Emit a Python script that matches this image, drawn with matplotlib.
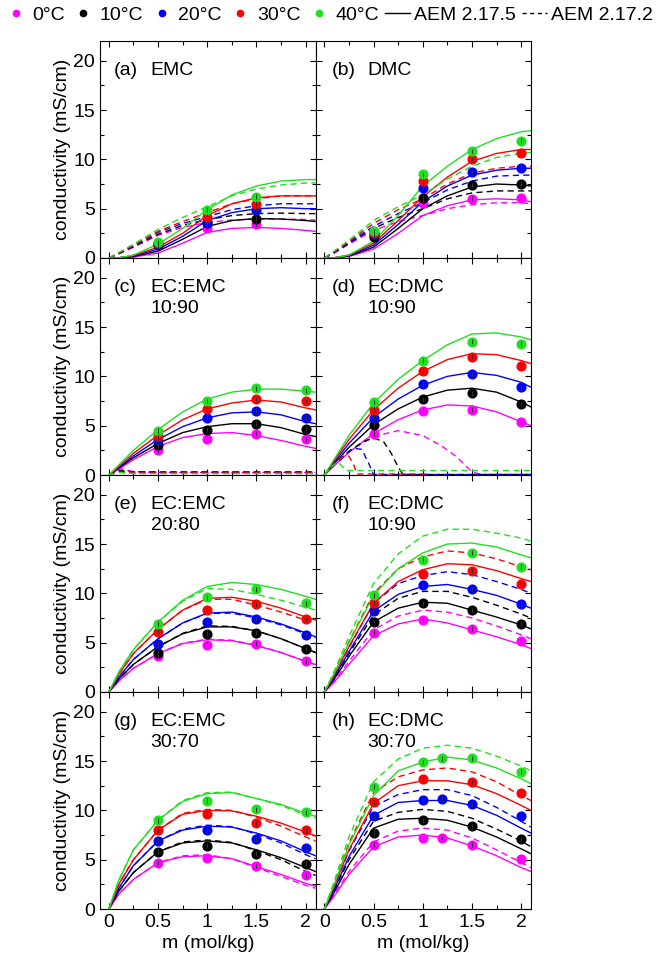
import matplotlib
matplotlib.use("Agg")
import matplotlib.pyplot as plt
from matplotlib.lines import Line2D
from matplotlib.ticker import MultipleLocator
import numpy as np

plt.rcParams['font.family'] = ['Liberation Sans', 'DejaVu Sans']
plt.rcParams['font.size'] = 14

temps = ['0°C', '10°C', '20°C', '30°C', '40°C']
colors = ['#ff00ff', '#000000', '#0000ff', '#ff0000', '#1fe01f']

# model curves are read at these molalities
m_fit = [0, 0.1, 0.25, 0.5, 0.75, 1.0, 1.25, 1.5, 1.75, 2.0, 2.1]
m_exp = [0.5, 1.0, 1.5, 2.0]
m_exp_a = [0.5, 1.0, 1.5]
m_exp_h = [0.5, 1.0, 1.2, 1.5, 2.0]

# (a) EMC  -- rows: 0, 10, 20, 30, 40 C
a_new = [[0, 0.01, 0.1, 0.5, 1.5, 2.6, 3.0, 3.1, 3.0, 2.8, 2.7],
         [0, 0.02, 0.15, 0.7, 1.9, 3.2, 3.8, 4.0, 3.95, 3.8, 3.7],
         [0, 0.02, 0.2, 0.9, 2.2, 3.8, 4.6, 5.0, 5.1, 5.0, 5.0],
         [0, 0.02, 0.25, 1.1, 2.5, 4.3, 5.5, 6.1, 6.3, 6.3, 6.3],
         [0, 0.02, 0.3, 1.4, 3.0, 4.9, 6.4, 7.3, 7.8, 7.95, 7.95]]
a_old = [[0, 0.4, 1.1, 2.3, 3.1, 3.6, 3.85, 3.95, 3.95, 3.9, 3.85],
         [0, 0.45, 1.15, 2.4, 3.3, 3.9, 4.3, 4.5, 4.55, 4.5, 4.5],
         [0, 0.5, 1.2, 2.6, 3.5, 4.2, 4.9, 5.3, 5.5, 5.5, 5.5],
         [0, 0.5, 1.3, 2.7, 3.7, 4.6, 5.5, 6.0, 6.3, 6.3, 6.3],
         [0, 0.55, 1.4, 2.9, 4.1, 5.2, 6.3, 7.0, 7.4, 7.6, 7.6]]
a_exp = [[1.3, 3.0, 3.4],
         [1.3, 3.5, 4.0],
         [1.4, 3.7, 4.9],
         [1.5, 4.2, 5.5],
         [1.6, 4.9, 6.2]]

# (b) DMC
b_new = [[0, 0.01, 0.15, 0.9, 2.5, 4.3, 5.3, 5.9, 6.0, 5.9, 5.7],
         [0, 0.02, 0.2, 1.1, 3.0, 5.0, 6.3, 7.2, 7.5, 7.4, 7.3],
         [0, 0.02, 0.25, 1.3, 3.4, 5.7, 7.3, 8.4, 8.9, 9.1, 9.1],
         [0, 0.02, 0.3, 1.5, 3.8, 6.2, 8.2, 9.8, 10.6, 11.0, 11.0],
         [0, 0.02, 0.3, 1.7, 4.3, 7.3, 9.3, 11.0, 12.1, 12.8, 12.9]]
b_old = [[0, 0.5, 1.4, 2.8, 3.7, 4.3, 5.0, 5.4, 5.6, 5.6, 5.5],
         [0, 0.55, 1.5, 3.0, 4.1, 5.0, 6.0, 6.6, 6.8, 6.8, 6.8],
         [0, 0.6, 1.6, 3.2, 4.5, 5.6, 6.9, 7.8, 8.3, 8.4, 8.4],
         [0, 0.65, 1.7, 3.5, 4.9, 6.0, 7.5, 8.6, 9.1, 9.3, 9.3],
         [0, 0.7, 1.8, 3.8, 5.2, 6.4, 8.0, 9.3, 10.2, 10.6, 10.7]]
b_exp = [[2.2, 5.6, 6.0, 6.1],
         [2.1, 6.1, 7.4, 7.5],
         [2.4, 7.1, 8.7, 9.1],
         [2.5, 7.8, 10.0, 10.6],
         [2.7, 8.5, 10.85, 11.9]]

# (c) EC:EMC 10:90
c_new = [[0, 0.6, 1.55, 2.9, 3.8, 4.2, 4.3, 4.0, 3.5, 2.9, 2.7],
         [0, 0.7, 1.75, 3.2, 4.3, 4.9, 5.2, 5.2, 4.8, 4.1, 3.9],
         [0, 0.75, 1.95, 3.6, 4.9, 5.8, 6.3, 6.4, 6.1, 5.4, 5.2],
         [0, 0.85, 2.2, 4.05, 5.6, 6.7, 7.3, 7.6, 7.4, 6.8, 6.6],
         [0, 1.0, 2.5, 4.6, 6.4, 7.7, 8.4, 8.7, 8.7, 8.5, 8.4]]
c_old = [[0, 0.7, 0.35, 0.25, 0.25, 0.25, 0.25, 0.25, 0.25, 0.25, 0.25],
         [0, 0.5, 0.3, 0.3, 0.3, 0.3, 0.3, 0.3, 0.3, 0.3, 0.3],
         [0, 0.35, 0.3, 0.3, 0.3, 0.3, 0.3, 0.3, 0.3, 0.3, 0.3],
         [0, 0.3, 0.2, 0.2, 0.2, 0.2, 0.2, 0.2, 0.2, 0.2, 0.2],
         [0, 0.25, 0.15, 0.15, 0.15, 0.15, 0.15, 0.15, 0.15, 0.15, 0.15]]
c_exp = [[2.5, 3.6, 4.2, 3.6],
         [3.0, 4.6, 5.2, 4.7],
         [3.55, 5.8, 6.5, 5.8],
         [3.95, 6.7, 7.7, 7.5],
         [4.5, 7.5, 8.8, 8.6]]

# (d) EC:DMC 10:90
d_new = [[0, 0.95, 2.3, 4.2, 5.6, 6.6, 7.1, 7.0, 6.4, 5.4, 5.0],
         [0, 1.15, 2.8, 5.1, 6.7, 7.9, 8.6, 8.8, 8.4, 7.4, 6.9],
         [0, 1.3, 3.2, 5.85, 7.7, 9.1, 10.0, 10.4, 10.1, 9.4, 8.9],
         [0, 1.45, 3.6, 6.6, 8.8, 10.5, 11.7, 12.3, 12.2, 11.6, 11.3],
         [0, 1.6, 4.0, 7.3, 9.7, 11.6, 13.2, 14.3, 14.4, 14.0, 13.7]]
# old model breaks down at low m in (d): each curve has its own molalities
d_old_m = [[0, 0.1, 0.25, 0.5, 0.75, 1.0, 1.2, 1.35, 1.5, 1.6, 2.1],
           [0, 0.1, 0.25, 0.4, 0.5, 0.6, 0.68, 0.75, 0.8, 2.1],
           [0, 0.1, 0.2, 0.3, 0.38, 0.45, 0.5, 2.1],
           [0, 0.1, 0.2, 0.25, 0.3, 0.33, 1.05],
           [0, 0.08, 0.14, 0.18, 0.22, 2.1]]
d_old = [[0, 1.0, 2.4, 3.9, 4.5, 4.0, 2.9, 1.8, 0.3, 0.05, 0.05],
         [0, 1.0, 2.4, 3.4, 3.75, 3.4, 2.2, 0.8, 0.05, 0.05],
         [0, 1.0, 2.0, 2.7, 2.6, 1.2, 0.05, 0.05],
         [0, 1.1, 1.9, 1.9, 1.0, 0.1, 0.1],
         [0, 0.9, 1.3, 0.9, 0.45, 0.45]]
d_exp = [[4.2, 6.5, 6.6, 5.4],
         [5.1, 7.7, 8.3, 7.2],
         [5.8, 9.2, 10.2, 8.9],
         [6.6, 10.5, 12.0, 11.1],
         [7.4, 11.6, 13.5, 13.3]]

# (e) EC:EMC 20:80
e_new = [[0, 1.1, 2.4, 3.9, 4.9, 5.3, 5.2, 4.7, 4.0, 3.1, 2.8],
         [0, 1.3, 2.8, 4.6, 5.9, 6.6, 6.6, 6.2, 5.4, 4.4, 4.0],
         [0, 1.5, 3.3, 5.4, 7.0, 8.0, 8.1, 7.6, 6.9, 6.0, 5.6],
         [0, 1.8, 3.9, 6.35, 8.3, 9.5, 9.6, 9.2, 8.5, 7.6, 7.3],
         [0, 2.0, 4.3, 7.1, 9.3, 10.7, 11.1, 10.9, 10.4, 9.7, 9.4]]
e_old = [[0, 1.1, 2.4, 3.9, 4.95, 5.35, 5.25, 4.75, 4.0, 3.1, 2.75],
         [0, 1.3, 2.8, 4.6, 5.95, 6.7, 6.65, 6.2, 5.4, 4.4, 4.0],
         [0, 1.5, 3.3, 5.4, 7.0, 7.95, 8.0, 7.5, 6.8, 5.9, 5.5],
         [0, 1.8, 3.9, 6.35, 8.3, 9.4, 9.4, 8.8, 8.1, 7.3, 7.0],
         [0, 2.0, 4.3, 7.1, 9.2, 10.5, 10.4, 9.9, 9.3, 8.6, 8.3]]
e_exp = [[3.6, 4.8, 4.9, 3.1],
         [3.96, 5.9, 6.0, 4.4],
         [4.9, 7.1, 7.4, 5.8],
         [6.1, 8.3, 8.9, 7.4],
         [6.9, 9.6, 10.4, 9.0]]

# (f) EC:DMC 10:90
f_new = [[0, 1.0, 2.8, 5.7, 6.9, 7.4, 7.0, 6.3, 5.6, 4.8, 4.4],
         [0, 1.3, 3.6, 7.1, 8.5, 9.1, 9.0, 8.3, 7.6, 6.8, 6.4],
         [0, 1.5, 4.1, 8.2, 9.9, 10.7, 10.9, 10.4, 9.8, 8.9, 8.5],
         [0, 1.7, 4.6, 9.0, 11.2, 12.4, 13.0, 12.9, 12.3, 11.5, 11.2],
         [0, 1.9, 5.0, 9.8, 12.5, 14.1, 15.0, 15.1, 14.7, 13.9, 13.6]]
f_old = [[0, 1.1, 3.1, 6.3, 7.7, 8.3, 8.1, 7.5, 6.7, 5.8, 5.4],
         [0, 1.4, 3.9, 7.8, 9.5, 10.2, 10.2, 9.6, 8.8, 7.9, 7.5],
         [0, 1.7, 4.5, 9.0, 11.0, 11.8, 12.2, 11.9, 11.2, 10.4, 10.0],
         [0, 1.9, 5.1, 10.0, 12.5, 13.7, 14.3, 14.1, 13.5, 12.7, 12.4],
         [0, 2.1, 5.6, 11.0, 14.0, 15.8, 16.5, 16.5, 16.1, 15.6, 15.3]]
f_exp = [[6.0, 7.3, 6.4, 5.2],
         [7.1, 9.0, 8.3, 6.9],
         [8.2, 10.8, 10.4, 8.9],
         [9.05, 12.0, 12.3, 10.9],
         [9.8, 13.4, 14.1, 12.7]]

# (g) EC:EMC 30:70
g_new = [[0, 1.5, 3.0, 4.7, 5.3, 5.4, 5.1, 4.3, 3.5, 2.6, 2.3],
         [0, 1.8, 3.7, 5.8, 6.7, 6.9, 6.7, 6.0, 5.2, 4.2, 3.8],
         [0, 2.1, 4.4, 6.9, 8.0, 8.4, 8.3, 7.7, 6.9, 5.8, 5.4],
         [0, 2.5, 5.0, 8.0, 9.6, 10.0, 9.95, 9.4, 8.7, 7.8, 7.4],
         [0, 2.9, 6.0, 9.0, 10.9, 11.7, 11.8, 11.2, 10.6, 9.7, 9.4]]
g_old = [[0, 1.5, 3.0, 4.7, 5.4, 5.5, 5.1, 4.2, 3.3, 2.4, 2.1],
         [0, 1.8, 3.7, 5.8, 6.8, 7.0, 6.75, 5.9, 5.0, 3.8, 3.4],
         [0, 2.1, 4.4, 6.9, 8.1, 8.5, 8.35, 7.6, 6.7, 5.5, 5.1],
         [0, 2.5, 5.0, 8.0, 9.7, 10.1, 10.0, 9.3, 8.4, 7.3, 6.9],
         [0, 2.9, 6.0, 9.0, 11.0, 11.8, 11.85, 11.2, 10.5, 9.5, 9.2]]
g_exp = [[4.7, 5.2, 4.4, 3.4],
         [5.8, 6.4, 5.6, 4.6],
         [6.9, 7.96, 7.1, 6.2],
         [7.96, 9.6, 8.7, 7.96],
         [9.0, 11.0, 10.1, 9.8]]

# (h) EC:DMC 30:70
h_new = [[0, 1.3, 3.5, 6.3, 7.3, 7.5, 7.2, 6.4, 5.4, 4.2, 3.8],
         [0, 1.7, 4.5, 8.2, 9.1, 9.2, 9.0, 8.3, 7.3, 6.1, 5.6],
         [0, 2.0, 5.3, 9.5, 10.8, 11.0, 11.0, 10.5, 9.5, 8.2, 7.7],
         [0, 2.3, 6.0, 10.7, 12.5, 13.0, 13.0, 12.6, 11.7, 10.5, 10.0],
         [0, 2.5, 6.5, 11.5, 14.0, 14.9, 15.4, 15.1, 14.3, 13.2, 12.7]]
h_old = [[0, 1.5, 3.8, 6.8, 7.9, 8.2, 8.0, 7.2, 6.0, 4.7, 4.2],
         [0, 1.9, 5.0, 8.9, 9.8, 10.1, 9.9, 9.2, 8.1, 6.9, 6.3],
         [0, 2.2, 5.9, 10.4, 11.6, 12.1, 12.1, 11.5, 10.3, 8.9, 8.3],
         [0, 2.5, 6.7, 11.8, 13.4, 14.1, 14.3, 13.9, 12.9, 11.5, 11.0],
         [0, 2.8, 7.3, 12.9, 15.2, 16.3, 16.6, 16.3, 15.5, 14.5, 14.0]]
h_exp = [[6.5, 7.2, 7.2, 6.5, 5.1],
         [7.75, 9.0, np.nan, 8.4, 7.1],
         [9.4, 11.1, 11.2, 10.6, 9.4],
         [10.8, 13.2, np.nan, 12.9, 11.8],
         [12.4, 14.9, 15.3, 15.3, 13.9]]

letters = ['(a)', '(b)', '(c)', '(d)', '(e)', '(f)', '(g)', '(h)']
names = ['EMC', 'DMC', 'EC:EMC\n10:90', 'EC:DMC\n10:90',
         'EC:EMC\n20:80', 'EC:DMC\n10:90', 'EC:EMC\n30:70', 'EC:DMC\n30:70']

panels = [
    (a_new, None, a_old, m_exp_a, a_exp),
    (b_new, None, b_old, m_exp, b_exp),
    (c_new, None, c_old, m_exp, c_exp),
    (d_new, d_old_m, d_old, m_exp, d_exp),
    (e_new, None, e_old, m_exp, e_exp),
    (f_new, None, f_old, m_exp, f_exp),
    (g_new, None, g_old, m_exp, g_exp),
    (h_new, None, h_old, m_exp_h, h_exp),
]

W, H = 656, 958
fig = plt.figure(figsize=(W / 100, H / 100), dpi=100)

col_x = [100, 315.5]
row_top = [41, 258, 475, 692]
pw, ph = 215.5, 217

for i, (new, old_m, old, mx, ex) in enumerate(panels):
    r, c = divmod(i, 2)
    ax = fig.add_axes([col_x[c] / W, (H - row_top[r] - ph) / H, pw / W, ph / H])

    for k in range(5):
        mm = old_m[k] if old_m is not None else m_fit
        ax.plot(mm, old[k], color=colors[k], lw=1.0, ls='--', dashes=(4.5, 3))
        ax.plot(m_fit, new[k], color=colors[k], lw=1.0)
    for k in range(5):
        ax.errorbar(mx, ex[k], yerr=0.25, fmt='o', color=colors[k], ms=6.3,
                    ecolor='0.2', elinewidth=0.7, capsize=0, barsabove=True,
                    zorder=5)

    ax.set_xlim(-0.09, 2.1)
    ax.set_ylim(0, 22)
    ax.xaxis.set_major_locator(MultipleLocator(0.5))
    ax.xaxis.set_minor_locator(MultipleLocator(0.25))
    ax.yaxis.set_major_locator(MultipleLocator(5))
    ax.yaxis.set_minor_locator(MultipleLocator(2.5))
    ax.tick_params(which='both', direction='in', top=True, right=True,
                   width=0.8, labelsize=14)
    ax.tick_params(which='major', length=4)
    ax.tick_params(which='minor', length=3)
    for s in ax.spines.values():
        s.set_linewidth(0.8)

    ax.set_xticks([0, 0.5, 1, 1.5, 2])
    if r == 3:
        ax.set_xticklabels(['0', '0.5', '1', '1.5', '2'])
        ax.set_xlabel('m (mol/kg)', fontsize=14, labelpad=3)
    else:
        ax.set_xticklabels([])
    if c == 0:
        ax.set_ylabel('conductivity (mS/cm)', fontsize=14, labelpad=2)
    else:
        ax.set_yticklabels([])

    lx = 0.065 if c == 0 else 0.075
    nx = 0.235 if c == 0 else 0.24
    ax.text(lx, 0.866, letters[i], transform=ax.transAxes, fontsize=14,
            va='center', ha='left')
    lines = names[i].split('\n')
    ax.text(nx, 0.866, lines[0], transform=ax.transAxes, fontsize=14,
            va='center', ha='left')
    if len(lines) > 1:
        ax.text(nx, 0.768, lines[1], transform=ax.transAxes, fontsize=14,
                va='center', ha='left')

handles = [Line2D([], [], marker='o', ls='none', color=col, ms=4.5) for col in colors]
handles += [Line2D([], [], color='k', lw=1.0),
            Line2D([], [], color='k', lw=1.0, ls='--', dashes=(3, 2.5))]
labels = temps + ['AEM 2.17.5', 'AEM 2.17.2']
fig.legend(handles, labels, loc='center', bbox_to_anchor=(0.5, 1 - 15 / H),
           ncol=7, frameon=False, fontsize=14, handlelength=1.3,
           handletextpad=0.2, columnspacing=0.3, borderaxespad=0, borderpad=0)

fig.savefig('out.png', dpi=100)
